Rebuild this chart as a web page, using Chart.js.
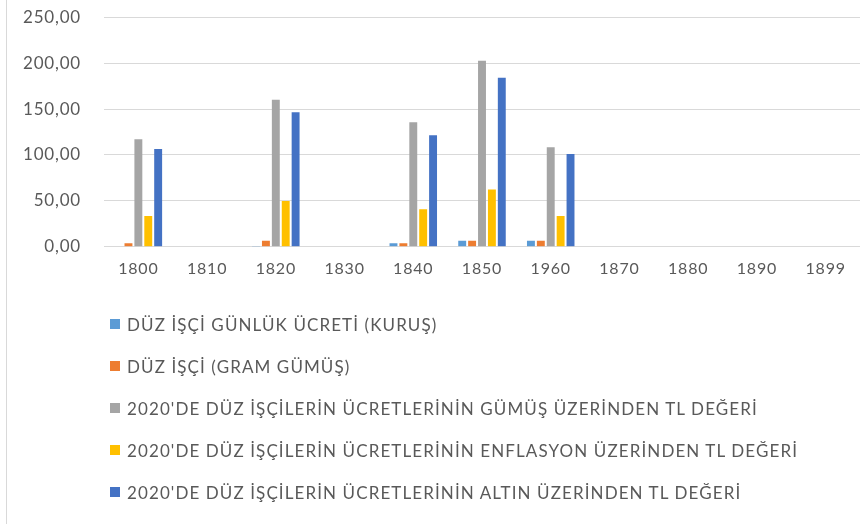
<!DOCTYPE html>
<html><head><meta charset="utf-8">
<script src="https://cdn.jsdelivr.net/npm/chart.js@4.4.1/dist/chart.umd.min.js"></script>
<style>
html,body{margin:0;padding:0;background:#fff;}
#wrap{position:relative;width:861px;height:524px;overflow:hidden;background:#fff;}
#frame{position:absolute;left:6px;top:0;width:1px;height:524px;background:#d9d9d9;z-index:2;}
#c{position:absolute;left:0;top:-16px;}
#legend{position:absolute;left:110px;top:314px;font-family:"Lato","Open Sans",sans-serif;font-size:17px;color:#595959;letter-spacing:1.1px;}
#legend div{height:42px;display:flex;align-items:flex-start;white-space:nowrap;}
#legend span.box{display:inline-block;width:10px;height:10px;margin-right:7px;margin-top:5px;}
</style></head>
<body><div id="wrap"><div id="frame"></div><canvas id="c" width="861" height="524"></canvas><div id="legend"></div></div>
<script>
const categories = ['1800','1810','1820','1830','1840','1850','1960','1870','1880','1890','1899'];
const seriesNames = [
  'DÜZ İŞÇİ GÜNLÜK ÜCRETİ (KURUŞ)',
  'DÜZ İŞÇİ (GRAM GÜMÜŞ)',
  "2020'DE DÜZ İŞÇİLERİN ÜCRETLERİNİN GÜMÜŞ ÜZERİNDEN TL DEĞERİ",
  "2020'DE DÜZ İŞÇİLERİN ÜCRETLERİNİN ENFLASYON ÜZERİNDEN TL DEĞERİ",
  "2020'DE DÜZ İŞÇİLERİN ÜCRETLERİNİN ALTIN ÜZERİNDEN TL DEĞERİ"
];
const dailyWageKurus = [0.5, null, 1, null, 4, 6.5, 6.5, null, null, null, null];
const gramSilver     = [4, null, 6.5, null, 4, 6.5, 6.5, null, null, null, null];
const silverTL       = [117, null, 160, null, 135.5, 202.5, 108.5, null, null, null, null];
const inflationTL    = [33.5, null, 50, null, 41, 62.5, 33.5, null, null, null, null];
const goldTL         = [106.5, null, 146.5, null, 121.5, 184, 101, null, null, null, null];
const yTicks = [0, 50, 100, 150, 200, 250];
const colors = ['#5b9bd5','#ed7d31','#a5a5a5','#ffc000','#4472c4'];
const seriesValues = [dailyWageKurus, gramSilver, silverTL, inflationTL, goldTL];

const datasets = seriesValues.map((v,i)=>({
  label: seriesNames[i], data: v, backgroundColor: colors[i], borderWidth: 0,
  categoryPercentage: 0.72, barPercentage: 0.8
}));

const spacing = {
  id: 'spacing',
  beforeInit(chart){ chart.ctx.letterSpacing = '0.8px'; },
  beforeDraw(chart){ chart.ctx.letterSpacing = '0.8px'; }
};
const xfont = {family: '"Lato","Open Sans",sans-serif', size: 16};
const yfont = {family: '"Lato","Open Sans",sans-serif', size: 17};
new Chart(document.getElementById('c'), {
  type: 'bar',
  data: {labels: categories, datasets},
  plugins: [spacing],
  options: {
    responsive: false, animation: false,
    layout: {padding: {left: 0, right: 1, top: 0, bottom: 218}},
    plugins: {legend: {display: false}, tooltip: {enabled: false}},
    scales: {
      x: {
        grid: {display: false, drawTicks: false},
        border: {display: false},
        ticks: {color: '#595959', font: xfont, padding: 12}
      },
      y: {
        min: 0, max: 250,
        afterBuildTicks: (ax)=>{ ax.ticks = yTicks.map(v=>({value:v})); },
        grid: {color: '#d9d9d9', drawTicks: false, lineWidth: 1},
        border: {display: false},
        afterFit: (ax)=>{ ax.width = 104; },
        ticks: {color: '#595959', font: yfont, padding: 23,
          callback: (v)=> Number(v).toFixed(2).replace('.', ',')}
      }
    }
  }
});
const lg = document.getElementById('legend');
seriesNames.forEach((n,i)=>{
  const d = document.createElement('div');
  d.innerHTML = '<span class="box" style="background:'+colors[i]+'"></span><span>'+n+'</span>';
  lg.appendChild(d);
});
</script></body></html>
